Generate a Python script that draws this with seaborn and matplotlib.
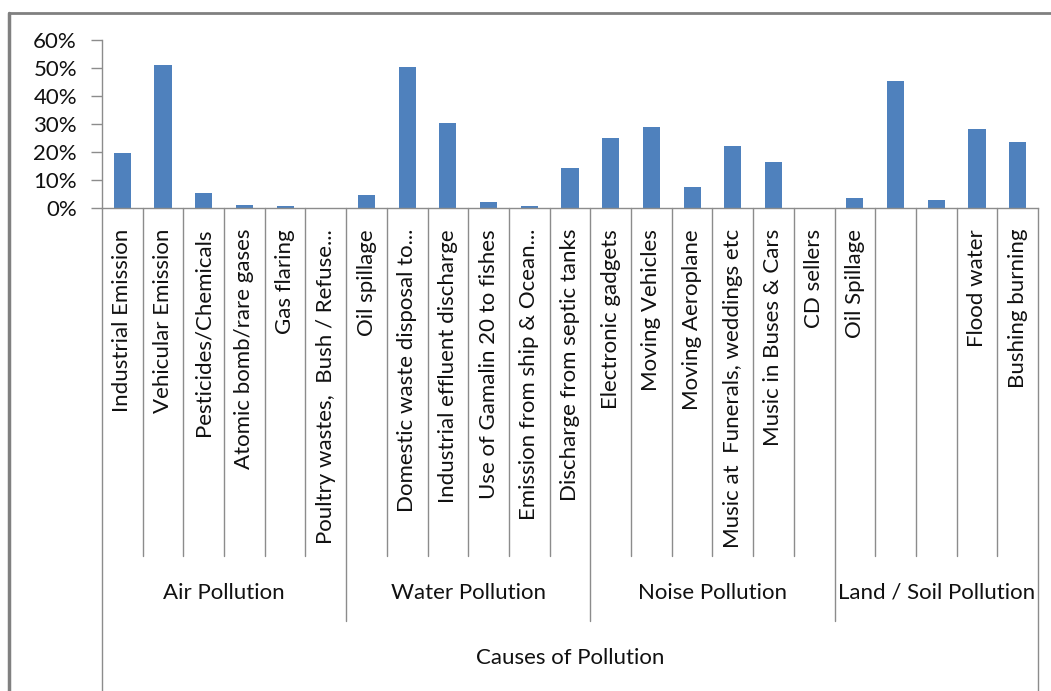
import matplotlib
matplotlib.use("Agg")
import matplotlib.pyplot as plt
from matplotlib.lines import Line2D
from matplotlib.ticker import PercentFormatter
import matplotlib.transforms as mtransforms
import numpy as np
import pandas as pd
import seaborn as sns

labels = [
    "Industrial Emission", "Vehicular Emission", "Pesticides/Chemicals",
    "Atomic bomb/rare gases", "Gas flaring", "Poultry wastes,  Bush / Refuse...",
    "Oil spillage", "Domestic waste disposal to...", "Industrial effluent discharge",
    "Use of Gamalin 20 to fishes", "Emission from ship & Ocean...", "Discharge from septic tanks",
    "Electronic gadgets", "Moving Vehicles", "Moving Aeroplane",
    "Music at  Funerals, weddings etc", "Music in Buses & Cars", "CD sellers",
    "Oil Spillage", "", "", "Flood water", "Bushing burning",
]
values = [
    19.5, 51.2, 5.4, 1.0, 0.6, 0.0,
    4.7, 50.4, 30.2, 2.2, 0.5, 14.2,
    25.1, 29.0, 7.4, 22.2, 16.3, 0.0,
    3.4, 45.3, 2.6, 28.3, 23.4,
]
group_names = ["Air Pollution", "Water Pollution", "Noise Pollution", "Land / Soil Pollution"]
group_sizes = [6, 6, 6, 5]
axis_title = "Causes of Pollution"
yticks = [0, 10, 20, 30, 40, 50, 60]

sns.set_style("white")
plt.rcParams["font.family"] = ["Lato", "DejaVu Sans"]

W, H = 1051, 691
fig = plt.figure(figsize=(W / 100, H / 100), dpi=100)
x0, x1, y0, y1 = 102, 1038, 207.7, 40
ax = fig.add_axes([x0 / W, 1 - y0 / H, (x1 - x0) / W, (y0 - y1) / H])

df = pd.DataFrame({"idx": np.arange(len(values)), "value": values})
sns.barplot(data=df, x="idx", y="value", color="#4F81BD", saturation=1,
            width=0.42, ax=ax, linewidth=0)

grey = "#8C8C8C"
fs = 16
txt = "#111111"
ax.set_xlim(-0.5, len(values) - 0.5)
ax.set_ylim(0, 60)
ax.set_yticks(yticks)
ax.yaxis.set_major_formatter(PercentFormatter(decimals=0))
ax.tick_params(axis="y", direction="out", length=8, width=1, color=grey,
               labelsize=fs, pad=10, left=True, labelcolor=txt)
ax.set_xticks([])
ax.set_xlabel("")
ax.set_ylabel("")
for s in ["top", "right"]:
    ax.spines[s].set_visible(False)
for s in ["left", "bottom"]:
    ax.spines[s].set_color(grey)
    ax.spines[s].set_linewidth(1)

trans = mtransforms.blended_transform_factory(ax.transData, ax.transAxes)
ph = y0 - y1
def ay(py):
    return (y0 - py) / ph

# category separator lines
bounds = np.cumsum([0] + group_sizes)
for b in range(len(values) + 1):
    xb = b - 0.5
    if b == 0 or b == len(values):
        yb = ay(700)
    elif b in bounds:
        yb = ay(621)
    else:
        yb = ay(556)
    ax.add_line(Line2D([xb, xb], [0, yb], transform=trans, color=grey,
                       lw=1, clip_on=False))

# category labels
for i, lab in enumerate(labels):
    if lab:
        ax.text(i, ay(229), lab, transform=trans, rotation=90, ha="center",
                va="top", fontsize=fs, color=txt)

# group labels
for g, name in enumerate(group_names):
    c = (bounds[g] + bounds[g + 1] - 1) / 2
    ax.text(c, ay(593), name, transform=trans, ha="center", va="center",
            fontsize=fs, color=txt)

ax.text((len(values) - 1) / 2, ay(658), axis_title, transform=trans,
        ha="center", va="center", fontsize=fs, color=txt)

# outer frame lines
fig.add_artist(Line2D([9 / W, 1], [1 - 13 / H, 1 - 13 / H], color="#808080", lw=2))
fig.add_artist(Line2D([9 / W, 9 / W], [0, 1 - 13 / H], color="#808080", lw=2.5))

fig.savefig("out.png", dpi=100, facecolor="white")
